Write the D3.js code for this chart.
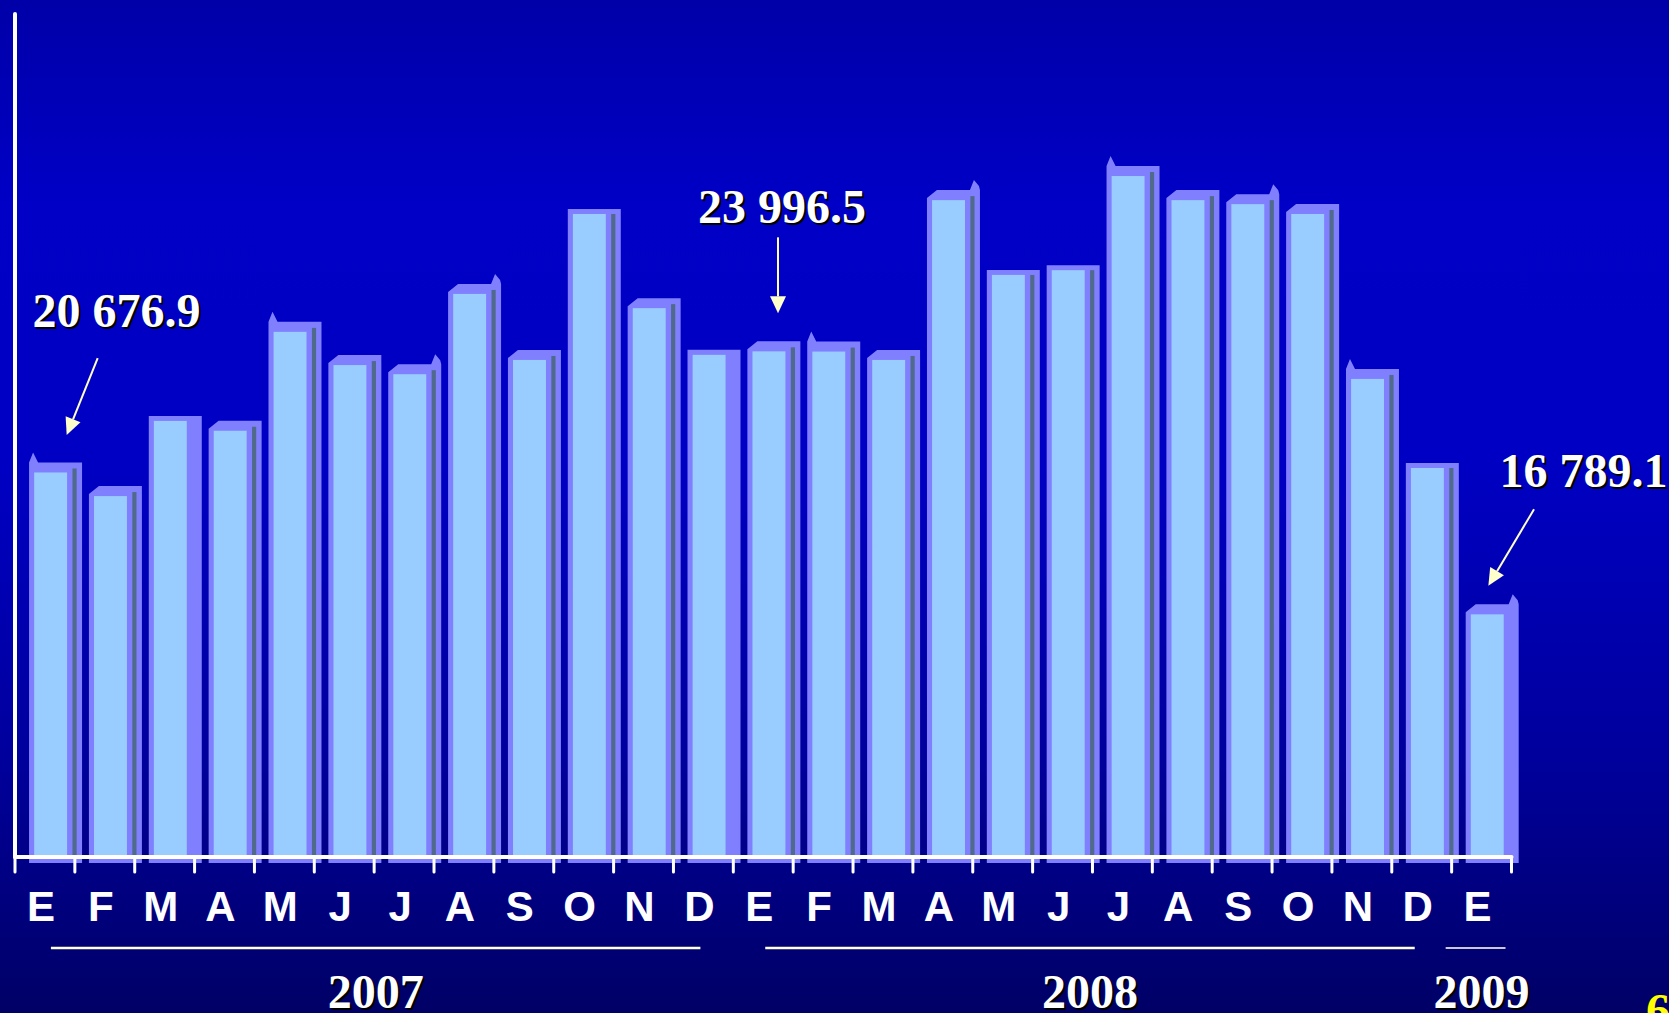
<!DOCTYPE html>
<html>
<head>
<meta charset="utf-8">
<script src="https://cdn.jsdelivr.net/npm/d3@7"></script>
<style>
body { margin: 0; overflow: hidden; background: #000080; }
</style>
</head>
<body>
<script>
// monthly values, Jan 2007 - Jan 2009 (three are labelled)
var months = ["E","F","M","A","M","J","J","A","S","O","N","D","E","F","M","A","M","J","J","A","S","O","N","D","E"];
var values = [20676.9, 20030, 22090, 21820, 24530, 23620, 23370, 25570, 23760, 27760, 25180, 23900,
              23996.5, 23990, 23760, 28140, 26090, 26220, 28800, 28140, 28030, 27760, 23240, 20800,
              16789.1];
var years = ["2007", "2008", "2009"];
var yearFirst = [0, 12, 24];
var yearLast = [11, 23, 24];
var labelled = [0, 12, 24];

// how the 3d top of each bar got drawn in the original
var caps = ["spikeL","cham","flat0","cham","spikeL","cham","chamR","chamR","cham","flat","cham","flat0",
            "cham","spikeL","cham","chamR","flat","flat","spikeL","cham","chamR","cham","spikeL","flat","chamR0"];

var width = 1669, height = 1013;
var base = 857;

var svg = d3.select("body").append("svg")
    .attr("width", width)
    .attr("height", height);

var grad = svg.append("defs").append("linearGradient")
    .attr("id", "bg").attr("x1", 0).attr("y1", 0).attr("x2", 0).attr("y2", 1);
[[0, "#0000A8"], [0.2, "#0000C6"], [0.45, "#0000C4"], [0.75, "#00009C"], [1, "#000066"]].forEach(function(s) {
    grad.append("stop").attr("offset", s[0]).attr("stop-color", s[1]);
});
svg.append("rect").attr("width", width).attr("height", height).attr("fill", "url(#bg)");

var x = d3.scaleBand().domain(d3.range(months.length)).range([15, 1511.5]).padding(0);
var y = d3.scaleLinear().domain([10140, 33240]).range([base, 14]);
var bw = x.bandwidth();

function isFlat(i) { return caps[i].indexOf("flat") === 0; }

function outline(i) {
    var L = x(i) + 0.235 * bw, R = x(i) + 1.12 * bw, t = y(values[i]), b = 863, k = caps[i];
    var p;
    if (isFlat(i)) {
        p = [[L, b], [L, t - 5], [R, t - 5], [R, b]];
    } else if (k === "spikeL") {
        p = [[L, b], [L, t - 10], [L + 4, t - 20], [L + 9, t - 10], [R, t - 10], [R, b]];
    } else {
        p = [[L, b], [L, t - 2], [L + 10, t - 10]];
        if (k.indexOf("chamR") === 0) p.push([R - 10, t - 10], [R - 6, t - 20], [R - 1, t - 14], [R, t - 10]);
        else p.push([R, t - 10]);
        p.push([R, b]);
    }
    return "M" + p.join("L") + "Z";
}

var bars = svg.append("g").selectAll("g")
    .data(d3.range(values.length))
    .enter().append("g");

bars.append("path")
    .attr("d", function(i) { return outline(i); })
    .attr("fill", "#8080FF");

bars.append("rect")
    .attr("x", function(i) { return x(i) + 0.32 * bw; })
    .attr("y", function(i) { return y(values[i]); })
    .attr("width", 0.55 * bw)
    .attr("height", function(i) { return base - y(values[i]); })
    .attr("fill", "#99CCFF");

bars.filter(function(i) { return !/0$/.test(caps[i]); })
    .append("rect")
    .attr("x", function(i) { return x(i) + 0.96 * bw; })
    .attr("y", function(i) { return y(values[i]) - (isFlat(i) ? 0 : 4); })
    .attr("width", 0.07 * bw)
    .attr("height", function(i) { return base - y(values[i]) + (isFlat(i) ? 0 : 4); })
    .attr("fill", "#4F6A8A");

// axes
svg.append("line")
    .attr("x1", 15).attr("x2", x.range()[1]).attr("y1", base).attr("y2", base)
    .attr("stroke", "white").attr("stroke-width", 4).attr("stroke-linecap", "round");
svg.append("line")
    .attr("x1", 15).attr("x2", 15).attr("y1", y.range()[1]).attr("y2", base)
    .attr("stroke", "white").attr("stroke-width", 4).attr("stroke-linecap", "round");

svg.append("g").selectAll("line")
    .data(d3.range(months.length + 1))
    .enter().append("line")
    .attr("x1", function(i) { return i < months.length ? x(i) : x.range()[1]; })
    .attr("x2", function(i) { return i < months.length ? x(i) : x.range()[1]; })
    .attr("y1", base).attr("y2", base + 15)
    .attr("stroke", "white").attr("stroke-width", 3).attr("stroke-linecap", "round");

var xAxis = svg.append("g")
    .attr("transform", "translate(0," + base + ")")
    .call(d3.axisBottom(x).tickSize(0).tickPadding(34).tickFormat(function(i) { return months[i]; }));
xAxis.select(".domain").remove();
xAxis.selectAll("text")
    .attr("dx", -4)
    .attr("fill", "white")
    .style("font-family", "'Liberation Sans', Arial, sans-serif")
    .style("font-weight", "bold")
    .style("font-size", "42px");

// year brackets
var serif = "'Liberation Serif', 'Times New Roman', serif";
years.forEach(function(yr, g) {
    var a = yearFirst[g], b = yearLast[g], x1, x2, cx;
    if (a < b) { x1 = x(a) + 0.6 * bw - 4 * g; x2 = x(b) + 0.45 * bw - 4 * g; cx = (x1 + x2) / 2; }
    else { x1 = x(a) - 0.1 * bw; x2 = x(a) + 0.9 * bw; cx = x(a) + bw / 2; }
    svg.append("line")
        .attr("x1", x1).attr("x2", x2).attr("y1", 948).attr("y2", 948)
        .attr("stroke", a < b ? "#FFFFE8" : "#C8C8D4")
        .attr("stroke-width", a < b ? 2.6 : 2);
    [["black", 2], ["white", 0]].forEach(function(s) {
        svg.append("text")
            .attr("x", cx + s[1]).attr("y", 1008 + s[1])
            .attr("text-anchor", "middle")
            .attr("fill", s[0])
            .style("font-family", serif).style("font-weight", "bold").style("font-size", "48px")
            .text(yr);
    });
});

// value callouts
var fmt = d3.formatLocale({ decimal: ".", thousands: " ", grouping: [3], currency: ["", ""] }).format(",.1f");
var callout = [
    { tx: 101.5, ty: -145, ax1: 82.7, ay1: -114.4, ax2: 51.7, ay2: -37.4 },
    { tx: 48.7, ty: -128.6, ax1: 44.7, ay1: -114, ax2: 44.7, ay2: -38 },
    { tx: 131.8, ty: -127.6, ax1: 82.4, ay1: -105, ax2: 36.7, ay2: -28.6 }
];
labelled.forEach(function(i, k) {
    var c = callout[k], bx = x(i), by = y(values[i]);
    [["black", 2], ["white", 0]].forEach(function(s) {
        svg.append("text")
            .attr("x", bx + c.tx + s[1]).attr("y", by + c.ty + s[1])
            .attr("text-anchor", "middle")
            .attr("fill", s[0])
            .style("font-family", serif).style("font-weight", "bold").style("font-size", "48px")
            .text(fmt(values[i]));
    });
    var x1 = bx + c.ax1, y1 = by + c.ay1, x2 = bx + c.ax2, y2 = by + c.ay2;
    var ang = Math.atan2(y2 - y1, x2 - x1), hl = 17, hw = 8;
    var bxh = x2 - hl * Math.cos(ang), byh = y2 - hl * Math.sin(ang);
    svg.append("line")
        .attr("x1", x1).attr("y1", y1).attr("x2", bxh).attr("y2", byh)
        .attr("stroke", "#FFFFCC").attr("stroke-width", 2);
    svg.append("path")
        .attr("d", "M" + x2 + "," + y2 +
            "L" + (bxh + hw * Math.sin(ang)) + "," + (byh - hw * Math.cos(ang)) +
            "L" + (bxh - hw * Math.sin(ang)) + "," + (byh + hw * Math.cos(ang)) + "Z")
        .attr("fill", "#FFFFCC");
});

// slide number, cut by the edge
svg.append("text")
    .attr("x", 1646).attr("y", 1027)
    .attr("fill", "#FFFF00")
    .style("font-family", serif).style("font-weight", "bold").style("font-size", "48px")
    .text("6");
</script>
</body>
</html>
